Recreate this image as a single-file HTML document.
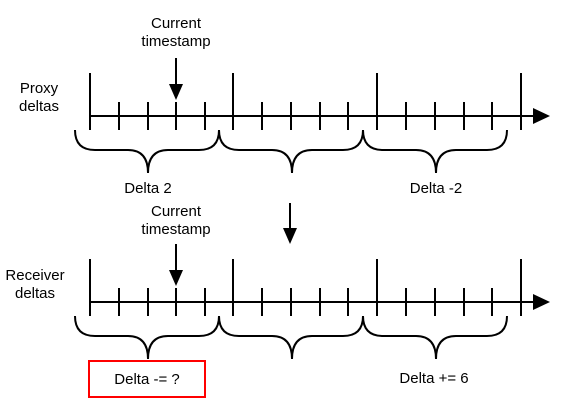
<!DOCTYPE html>
<html><head><style>body{margin:0;background:#fff}svg{display:block}</style></head><body>
<svg width="568" height="414" xmlns="http://www.w3.org/2000/svg" font-family="Liberation Sans, sans-serif" font-size="15">
<defs>
<g id="tl" stroke="#000" stroke-width="2" fill="none">
<line x1="90" y1="116" x2="536" y2="116"/>
<polygon points="550,116 533,108 533,124" fill="#000" stroke="none"/>
<path d="M90,73V130M233,73V130M377,73V130M521,73V130"/>
<path d="M119,102V130M148,102V130M176,102V130M205,102V130M262,102V130M291,102V130M320,102V130M348,102V130M406,102V130M435,102V130M464,102V130M492,102V130"/>
<path d="M75,130Q75,150 95,150L128,150Q148,150 148,173Q148,150 168,150L199,150Q219,150 219,130"/>
<path d="M219,130Q219,150 239,150L272,150Q292,150 292,173Q292,150 312,150L343,150Q363,150 363,130"/>
<path d="M363,130Q363,150 383,150L416,150Q436,150 436,173Q436,150 456,150L487,150Q507,150 507,130"/>
<line x1="176" y1="58" x2="176" y2="86"/>
<polygon points="176,100 169,84 183,84" fill="#000" stroke="none"/>
</g>
</defs>
<use href="#tl"/>
<use href="#tl" y="186"/>
<line x1="290" y1="203" x2="290" y2="230" stroke="#000" stroke-width="2"/>
<polygon points="290,244 283,228 297,228" fill="#000"/>
<g text-anchor="middle" fill="#000">
<text x="176" y="28">Current</text><text x="176" y="46">timestamp</text>
<text x="39" y="93">Proxy</text><text x="39" y="111">deltas</text>
<text x="148" y="193">Delta 2</text>
<text x="436" y="193">Delta -2</text>
<text x="176" y="216">Current</text><text x="176" y="234">timestamp</text>
<text x="35" y="280">Receiver</text><text x="35" y="298">deltas</text>
<text x="147" y="384">Delta -= ?</text>
<text x="434" y="383">Delta += 6</text>
</g>
<rect x="89" y="361" width="116" height="36" fill="none" stroke="#f00" stroke-width="2"/>
</svg>
</body></html>
